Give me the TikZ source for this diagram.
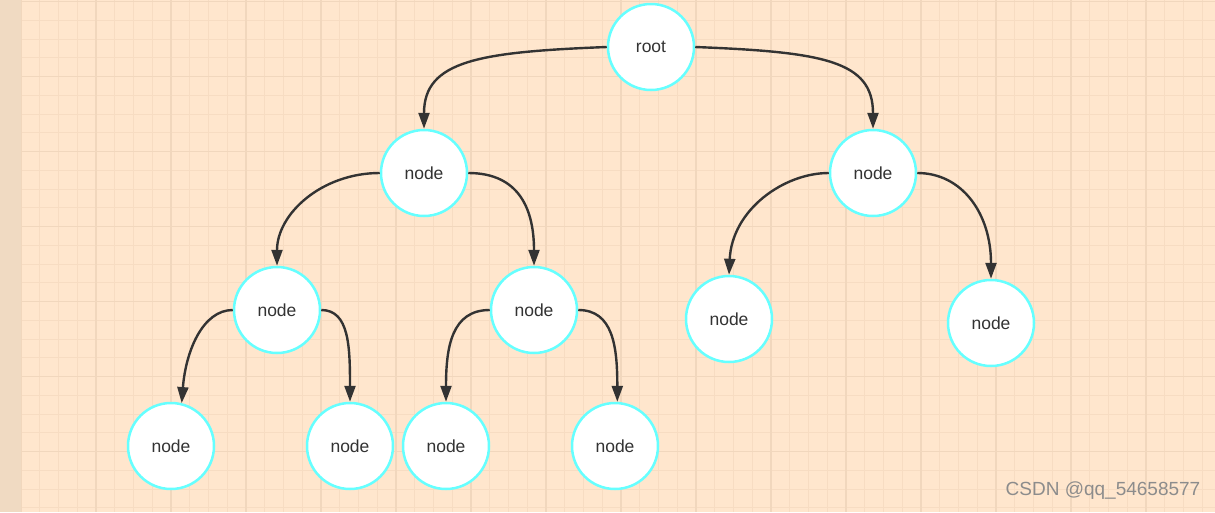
\documentclass[tikz,border=0pt]{standalone}
\usepackage{fontspec}
\setmainfont{Liberation Sans}
\usetikzlibrary{arrows.meta}
\definecolor{bgpeach}{RGB}{255,230,205}
\definecolor{stripcol}{RGB}{240,218,194}
\definecolor{gridminor}{RGB}{247,220,194}
\definecolor{gridmajor}{RGB}{241,215,189}
\definecolor{ncyan}{RGB}{102,255,255}
\definecolor{edgecol}{RGB}{51,51,51}
\definecolor{txtcol}{RGB}{51,51,51}
\definecolor{wmcol}{RGB}{140,140,140}
\begin{document}
\begin{tikzpicture}[x=1pt,y=-1pt,
  tnode/.style={circle,draw=ncyan,fill=white,line width=2.5pt,minimum size=86pt,inner sep=0pt,
    text=txtcol,font=\fontsize{17.5}{20}\selectfont},
  conn/.style={draw=edgecol,line width=2.4pt,-{Triangle[length=16pt,width=11pt]}}]
\useasboundingbox (0,0) rectangle (1215,512);
% background
\fill[stripcol] (0,0) rectangle (21,512);
\fill[bgpeach] (21,0) rectangle (1215,512);
\begin{scope}
\clip (21,0) rectangle (1215,512);
\foreach \x in {21,39.75,...,1216} \draw[gridminor,line width=1pt] (\x,0) -- (\x,512);
\foreach \y in {1.5,20.25,...,513} \draw[gridminor,line width=1pt] (21,\y) -- (1215,\y);
\foreach \x in {21,96,...,1216} \draw[gridmajor,line width=1.2pt] (\x,0) -- (\x,512);
\foreach \y in {1.5,76.5,...,513} \draw[gridmajor,line width=1.2pt] (21,\y) -- (1215,\y);
\end{scope}
% nodes
\node[tnode] (root) at (651,47) {root};
\node[tnode] (L1) at (424,173) {node};
\node[tnode] (R1) at (873,173) {node};
\node[tnode] (LL) at (277,310) {node};
\node[tnode] (LR) at (534,310) {node};
\node[tnode] (RL) at (729,319) {node};
\node[tnode] (RR) at (991,323) {node};
\node[tnode] (LLL) at (171,446) {node};
\node[tnode] (LLR) at (350,446) {node};
\node[tnode] (LRL) at (446,446) {node};
\node[tnode] (LRR) at (615,446) {node};
% connectors
\draw[conn] (root.west) .. controls +(-128,5) and +(0,-68) .. (L1.north);
\draw[conn] (root.east) .. controls +(128,5) and +(0,-68) .. (R1.north);
\draw[conn] (L1.west) .. controls +(-58,0) and +(0,-52) .. (LL.north);
\draw[conn] (L1.east) .. controls +(52,0) and +(0,-55) .. (LR.north);
\draw[conn] (LL.west) .. controls +(-30,0) and +(4,-52) .. (LLL.76);
\draw[conn] (LL.east) .. controls +(28,0) and +(0,-55) .. (LLR.north);
\draw[conn] (LR.west) .. controls +(-38,0) and +(0,-55) .. (LRL.north);
\draw[conn] (LR.east) .. controls +(35,0) and +(0,-55) .. (LRR.87);
\draw[conn] (R1.west) .. controls +(-45,0) and +(3,-65) .. (RL.north);
\draw[conn] (R1.east) .. controls +(45,0) and +(0,-65) .. (RR.north);
% watermark
\node[text=wmcol,font=\fontsize{19}{22}\selectfont] (wm) at (1103,491) {CSDN @qq\_54658577};
\end{tikzpicture}
\end{document}
